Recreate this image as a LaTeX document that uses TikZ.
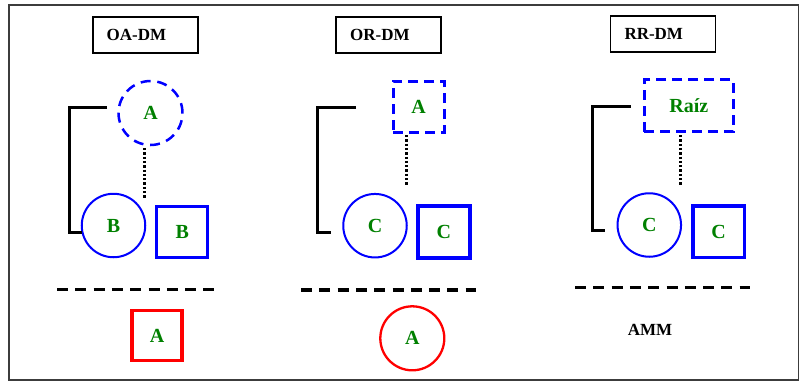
\documentclass[tikz,border=0pt]{standalone}
\usepackage{fontspec}
\setmainfont{Liberation Serif}
\definecolor{lblue}{RGB}{0,0,255}
\definecolor{lred}{RGB}{255,0,0}
\definecolor{lgreen}{RGB}{0,128,0}
\definecolor{lframe}{RGB}{60,60,60}
\begin{document}
\begin{tikzpicture}[x=1pt,y=-1pt,
  titlebox/.style={draw=black,line width=1.8pt,text width=77pt,inner xsep=14pt,minimum height=36pt,align=left,font=\fontsize{17}{20}\selectfont\bfseries},
  lbl/.style={text=lgreen,font=\fontsize{20}{24}\selectfont\bfseries,inner sep=0pt},
  dcirc/.style={lbl,circle,draw=lblue,line width=2.5pt,dash pattern=on 10pt off 6.7pt,minimum size=64pt},
  dsq/.style={lbl,rectangle,draw=lblue,line width=3pt,dash pattern=on 10pt off 6pt},
  bcirc/.style={lbl,circle,draw=lblue,line width=2pt,minimum size=63.5pt},
  bsq/.style={lbl,rectangle,draw=lblue,line width=3.5pt,minimum size=51pt},
  rsq/.style={lbl,rectangle,draw=lred,line width=3.5pt,minimum size=50pt},
  rcirc/.style={lbl,circle,draw=lred,line width=2.3pt,minimum size=64pt},
  bracket/.style={draw=black,line width=3pt},
  dotline/.style={draw=black,line width=3pt,dash pattern=on 2.3pt off 2pt},
  sepline/.style={draw=black,line width=3.2pt,dash pattern=on 11pt off 7.3pt}
]
\useasboundingbox (0,0) rectangle (804,384);
\draw[lframe,line width=1.3pt] (9,5) rectangle (798.5,380);

% Panel 1
\node[titlebox] (t1) at (145.2,34.8) {OA-DM};
\node[dcirc] (a1) at (150.5,113) {A};
\node[bcirc] (b1) at (113.5,225.5) {B};
\node[bsq] (sb1) at (182.2,232.2) {B};
\coordinate (k1a) at (107,107);
\coordinate (k1b) at (82,232);
\draw[bracket] (k1a) -- ++(-38,0) |- (k1b);
\coordinate (d1a) at (144,148);
\coordinate (d1b) at (144,199);
\draw[dotline] (d1a) -- (d1b);
\coordinate (s1a) at (57,289.7);
\coordinate (s1b) at (214,289.7);
\draw[sepline] (s1a) -- (s1b);
\node[rsq] (r1) at (157.2,335.7) {A};

% Panel 2
\node[titlebox] (t2) at (388.7,34.8) {OR-DM};
\node[dsq,minimum size=51pt] (a2) at (418.7,106.7) {A};
\node[bcirc] (c2) at (375,225.7) {C};
\node[bsq,minimum size=52pt] (sc2) at (443.8,232.2) {C};
\coordinate (k2a) at (356,107);
\coordinate (k2b) at (331,232);
\draw[bracket] (k2a) -- ++(-38.3,0) |- (k2b);
\coordinate (d2a) at (406,135);
\coordinate (d2b) at (406,186);
\draw[dotline] (d2a) -- (d2b);
\coordinate (s2a) at (301,290);
\coordinate (s2b) at (476,290);
\draw[sepline] (s2a) -- (s2b);
\node[rcirc] (r2) at (412.3,338.3) {A};

% Panel 3
\node[titlebox] (t3) at (663,34.3) {RR-DM};
\node[dsq,minimum width=89pt,minimum height=51.7pt] (a3) at (688.8,105.8) {Raíz};
\node[bcirc] (c3) at (649.3,225) {C};
\node[bsq,minimum size=51.5pt] (sc3) at (718.5,231.5) {C};
\coordinate (k3a) at (630.7,106);
\coordinate (k3b) at (605,230.3);
\draw[bracket] (k3a) -- ++(-38,0) |- (k3b);
\coordinate (d3a) at (680.7,135);
\coordinate (d3b) at (680.7,185.7);
\draw[dotline] (d3a) -- (d3b);
\coordinate (s3a) at (575,287.7);
\coordinate (s3b) at (750,287.7);
\draw[sepline] (s3a) -- (s3b);
\node[font=\fontsize{17}{20}\selectfont\bfseries] (amm) at (650,330) {AMM};
\end{tikzpicture}
\end{document}
